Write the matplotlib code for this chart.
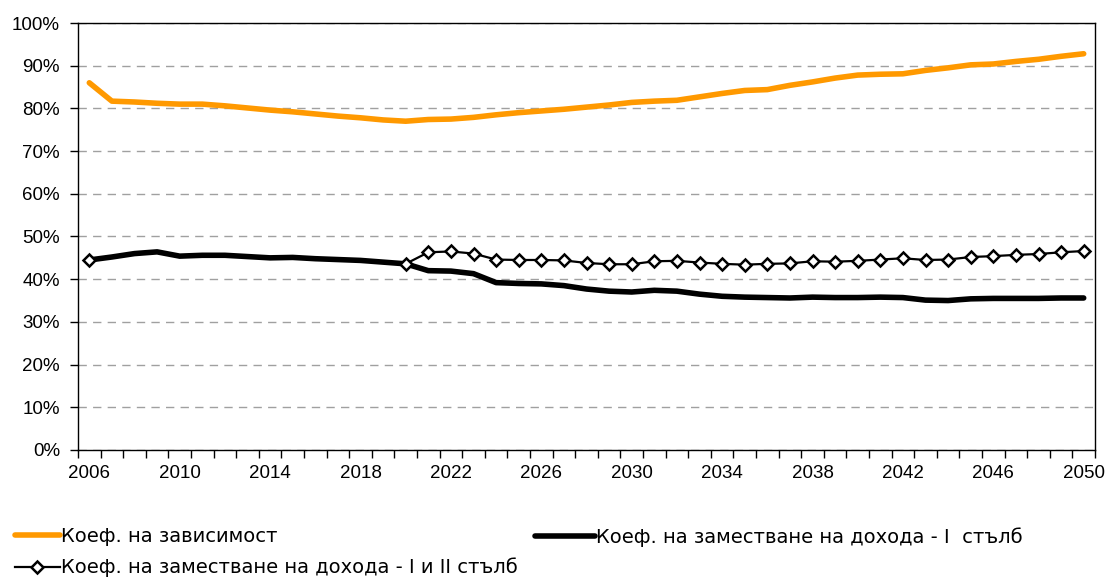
import numpy as np
import matplotlib
matplotlib.use("Agg")
import matplotlib.pyplot as plt
from matplotlib.ticker import FixedLocator, FuncFormatter

plt.rcParams['font.family'] = ['Liberation Sans', 'DejaVu Sans']

years = list(range(2006, 2051))

dependency = [86.0, 81.7, 81.5, 81.2, 81.0, 81.0, 80.6, 80.1, 79.6, 79.2,
              78.7, 78.2, 77.8, 77.3, 77.0, 77.4, 77.5, 77.9, 78.5, 79.0,
              79.4, 79.8, 80.3, 80.8, 81.4, 81.7, 81.9, 82.7, 83.5, 84.2,
              84.4, 85.4, 86.2, 87.1, 87.8, 88.0, 88.1, 88.9, 89.5, 90.2,
              90.4, 91.0, 91.5, 92.2, 92.8]

pillar1 = [44.5, 45.2, 46.0, 46.4, 45.4, 45.6, 45.6, 45.3, 45.0, 45.1,
           44.8, 44.6, 44.4, 44.0, 43.6, 42.0, 41.9, 41.3, 39.2, 39.0,
           38.9, 38.5, 37.7, 37.2, 37.0, 37.4, 37.2, 36.5, 36.0, 35.8,
           35.7, 35.6, 35.8, 35.7, 35.7, 35.8, 35.7, 35.1, 35.0, 35.4,
           35.5, 35.5, 35.5, 35.6, 35.6]

# I + II pillar: only 2006 and 2020 onwards
pillar12 = [44.5] + [np.nan] * 13 + [
    43.6, 46.3, 46.5, 46.0, 44.6, 44.5, 44.5, 44.4, 43.8, 43.5,
    43.5, 44.2, 44.3, 43.9, 43.6, 43.4, 43.6, 43.7, 44.2, 44.1,
    44.3, 44.6, 44.9, 44.5, 44.6, 45.2, 45.4, 45.7, 45.9, 46.3, 46.6]

labels = ["Коеф. на зависимост",
          "Коеф. на заместване на дохода - I  стълб",
          "Коеф. на заместване на дохода - I и II стълб"]

x = np.arange(len(years))

fig = plt.figure(figsize=(11.1, 5.79), dpi=100)
ax = fig.add_axes([78 / 1110, 1 - 450 / 579, 1017 / 1110, 427 / 579])

l1, = ax.plot(x, dependency, color="#FF9900", lw=4.0, solid_capstyle="round", zorder=3)
l2, = ax.plot(x, pillar1, color="black", lw=4.0, solid_capstyle="round", zorder=3)
l3, = ax.plot(x, pillar12, color="black", lw=1.6, marker="D", markersize=6.5,
              markerfacecolor="white", markeredgecolor="black", markeredgewidth=1.8, zorder=4)

ax.set_xlim(-0.5, len(years) - 0.5)
ax.set_ylim(0, 100)

ax.yaxis.set_major_locator(FixedLocator(np.arange(0, 101, 10)))
ax.yaxis.set_major_formatter(FuncFormatter(lambda v, p: f"{int(v)}%"))
ax.grid(axis="y", color="#a0a0a0", linestyle=(0, (6, 4.5)), lw=1.0)
ax.set_axisbelow(True)

ax.set_xticks(np.arange(-0.5, len(years), 1))
ax.set_xticklabels([])
ax.set_xticks(x[::4], minor=True)
ax.set_xticklabels([str(y) for y in years[::4]], minor=True)
ax.tick_params(axis="x", which="minor", length=0, pad=11, labelsize=13.5)
ax.tick_params(axis="x", which="major", length=6, width=1, direction="out")
ax.tick_params(axis="y", length=6, width=1, direction="out", labelsize=13.5, pad=7)

for s in ax.spines.values():
    s.set_color("black")
    s.set_linewidth(1.0)

legend_font = {"family": "DejaVu Sans", "size": 14}
leg_a = fig.legend([l1, l3], [labels[0], labels[2]],
                   loc="upper left", bbox_to_anchor=(15 / 1110, 1 - 527 / 579),
                   frameon=False, prop=legend_font, handlelength=2.3,
                   handletextpad=0.05, labelspacing=0.6, borderpad=0, borderaxespad=0)
leg_b = fig.legend([l2], [labels[1]],
                   loc="upper left", bbox_to_anchor=(535 / 1110, 1 - 527 / 579),
                   frameon=False, prop=legend_font, handlelength=3.1,
                   handletextpad=0.05, borderpad=0, borderaxespad=0)

fig.savefig("out.png", dpi=100, facecolor="white")
